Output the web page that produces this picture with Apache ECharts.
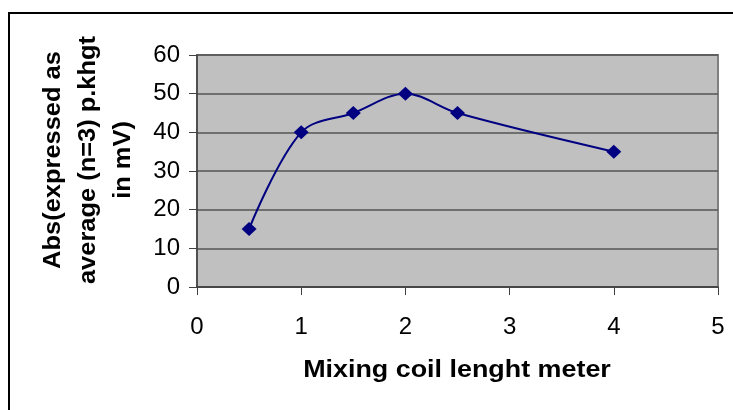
<!DOCTYPE html>
<html>
<head>
<meta charset="utf-8">
<script src="https://cdn.jsdelivr.net/npm/echarts@6/dist/echarts.min.js"></script>
<style>
html,body{margin:0;padding:0;background:#fff;}
#c{width:733px;height:410px;}
</style>
</head>
<body>
<div id="c"></div>
<script>
var xValues = [0.5, 1, 1.5, 2, 2.5, 4];
var yValues = [15, 40, 45, 50, 45, 35];
var xTitle = 'Mixing coil lenght meter';
var yTitle = 'Abs(expressed as\naverage (n=3) p.khgt\nin mV)';

var chart = echarts.init(document.getElementById('c'), null, {renderer: 'canvas'});
var font = '"Liberation Sans", Arial, sans-serif';
var pts = xValues.map(function (x, i) { return [x, yValues[i]]; });

chart.setOption({
  animation: false,
  backgroundColor: '#fff',
  grid: {
    left: 197, right: 15, top: 55, bottom: 123,
    show: true, backgroundColor: '#C0C0C0', borderColor: '#808080', borderWidth: 2
  },
  xAxis: {
    type: 'value', min: 0, max: 5, interval: 1,
    axisLine: {show: true, onZero: false, lineStyle: {color: '#404040', width: 1.5}},
    axisTick: {show: true, length: 8, lineStyle: {color: '#404040', width: 1}},
    axisLabel: {fontFamily: font, fontSize: 24, color: '#000', margin: 28},
    splitLine: {show: false}
  },
  yAxis: {
    type: 'value', min: 0, max: 60, interval: 10,
    axisLine: {show: true, lineStyle: {color: '#404040', width: 1.5}},
    axisTick: {show: true, length: 8, lineStyle: {color: '#404040', width: 1}},
    axisLabel: {fontFamily: font, fontSize: 24, color: '#000', margin: 17},
    splitLine: {show: true, lineStyle: {color: '#555555', width: 1.5}}
  },
  series: [{
    type: 'line',
    data: pts,
    smooth: 0.35,
    symbol: 'diamond',
    symbolSize: [15, 14],
    lineStyle: {color: '#000080', width: 2},
    itemStyle: {color: '#000080'}
  }],
  graphic: [
    {
      type: 'line', silent: true,
      shape: {x1: 9, y1: 13, x2: 733, y2: 13},
      style: {stroke: '#000', lineWidth: 2}
    },
    {
      type: 'line', silent: true,
      shape: {x1: 9, y1: 12, x2: 9, y2: 410},
      style: {stroke: '#000', lineWidth: 2}
    },
    {
      type: 'text', x: 457, y: 370, scaleX: 1.12,
      style: {text: xTitle, font: 'bold 24px ' + font, fill: '#000', align: 'center', verticalAlign: 'middle'}
    },
    {
      type: 'text', x: 88, y: 160, rotation: Math.PI / 2, scaleX: 1.06,
      style: {text: yTitle, font: 'bold 24px ' + font, lineHeight: 35, fill: '#000', align: 'center', verticalAlign: 'middle'}
    }
  ]
});
</script>
</body>
</html>
